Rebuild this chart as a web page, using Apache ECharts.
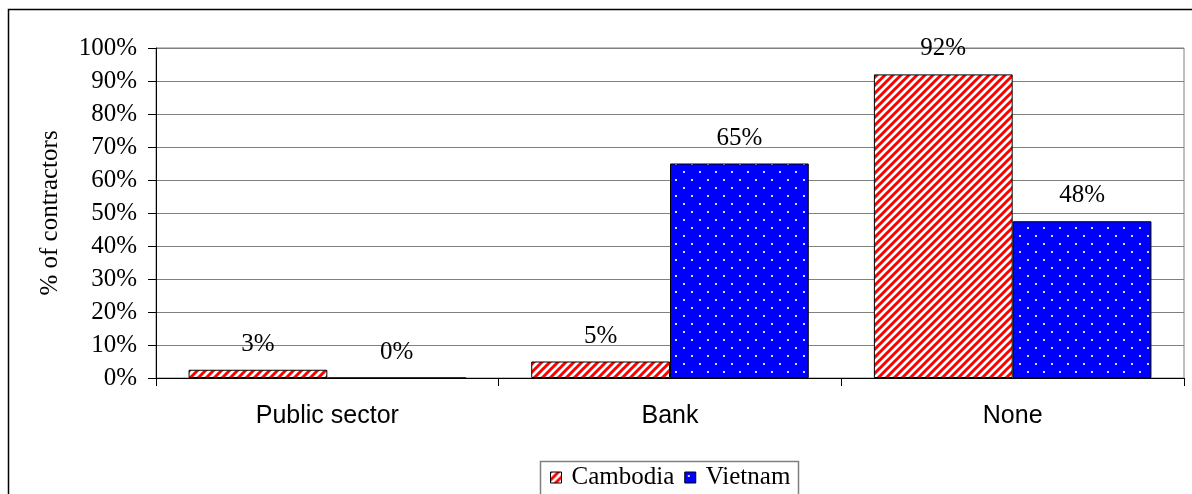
<!DOCTYPE html>
<html>
<head>
<meta charset="utf-8">
<script src="https://cdn.jsdelivr.net/npm/echarts@6/dist/echarts.min.js"></script>
<style>
html,body{margin:0;padding:0;background:#fff;}
#c{width:1192px;height:494px;}
</style>
</head>
<body>
<div id="c"></div>
<script>
var categories = ['Public sector', 'Bank', 'None'];
var cambodia = [2.5, 5, 92];
var vietnam = [0, 65, 47.5];
var yTicks = [0, 10, 20, 30, 40, 50, 60, 70, 80, 90, 100];
var seriesNames = ['Cambodia', 'Vietnam'];

function stripeCanvas() {
  var c = document.createElement('canvas');
  c.width = 8; c.height = 8;
  var g = c.getContext('2d');
  g.fillStyle = '#ffffff'; g.fillRect(0, 0, 8, 8);
  g.strokeStyle = '#ff0000'; g.lineWidth = 3;
  g.beginPath();
  g.moveTo(-2, 10); g.lineTo(10, -2);
  g.moveTo(-6, 6); g.lineTo(6, -6);
  g.moveTo(2, 14); g.lineTo(14, 2);
  g.stroke();
  return c;
}
function dotCanvas() {
  var c = document.createElement('canvas');
  c.width = 16; c.height = 16;
  var g = c.getContext('2d');
  g.fillStyle = '#0000ff'; g.fillRect(0, 0, 16, 16);
  g.fillStyle = '#d8d8ff';
  g.fillRect(3, 3, 2, 2);
  g.fillRect(11, 11, 2, 2);
  return c;
}

var chart = echarts.init(document.getElementById('c'), null, {renderer: 'canvas'});
var serif = '"Liberation Serif", "Times New Roman", serif';
var sans = '"Liberation Sans", Arial, sans-serif';
var labelOpt = {
  show: true, position: 'top', distance: 13,
  fontFamily: serif, fontSize: 25, color: '#000',
  formatter: function (p) { return Math.round(p.value) + '%'; }
};

chart.setOption({
  animation: false,
  graphic: [
    {type: 'rect', shape: {x: 8.5, y: 9.5, width: 1300, height: 600},
     style: {fill: 'none', stroke: '#000', lineWidth: 1.5}, silent: true},
    {type: 'rect', shape: {x: 540.5, y: 461.5, width: 258, height: 60},
     style: {fill: 'none', stroke: '#808080', lineWidth: 1.5}, silent: true}
  ],
  grid: {left: 156, right: 8, top: 48, bottom: 116, show: true,
         borderColor: '#808080', borderWidth: 1},
  legend: {
    data: seriesNames, left: 550, top: 465, padding: 0, icon: 'rect',
    itemWidth: 11, itemHeight: 11, itemGap: 10,
    textStyle: {fontFamily: serif, fontSize: 25, color: '#000', padding: [0, 0, 0, 5]},
    itemStyle: {borderColor: '#000', borderWidth: 1}
  },
  xAxis: {
    type: 'category', data: categories,
    axisLine: {lineStyle: {color: '#000', width: 1}},
    axisTick: {show: true, length: 8, lineStyle: {color: '#000'}},
    axisLabel: {fontFamily: sans, fontSize: 25, color: '#000', margin: 26}
  },
  yAxis: {
    type: 'value', min: yTicks[0], max: yTicks[yTicks.length - 1], interval: yTicks[1] - yTicks[0],
    name: '% of contractors', nameLocation: 'middle', nameGap: 93,
    nameTextStyle: {fontFamily: serif, fontSize: 25, color: '#000'},
    axisLine: {show: true, lineStyle: {color: '#000', width: 1}},
    axisTick: {show: true, length: 8, lineStyle: {color: '#000'}},
    axisLabel: {fontFamily: serif, fontSize: 25, color: '#000', margin: 19,
                formatter: function (v) { return v + '%'; }},
    splitLine: {show: true, lineStyle: {color: '#808080', width: 1}}
  },
  series: [
    {name: seriesNames[0], type: 'bar', data: cambodia, barGap: '0%', barCategoryGap: '19%',
     itemStyle: {color: {image: stripeCanvas(), repeat: 'repeat'}, borderColor: '#000', borderWidth: 1},
     label: labelOpt},
    {name: seriesNames[1], type: 'bar', data: vietnam, barGap: '0%', barCategoryGap: '19%',
     itemStyle: {color: {image: dotCanvas(), repeat: 'repeat'}, borderColor: '#000', borderWidth: 1},
     label: labelOpt}
  ]
});
</script>
</body>
</html>
